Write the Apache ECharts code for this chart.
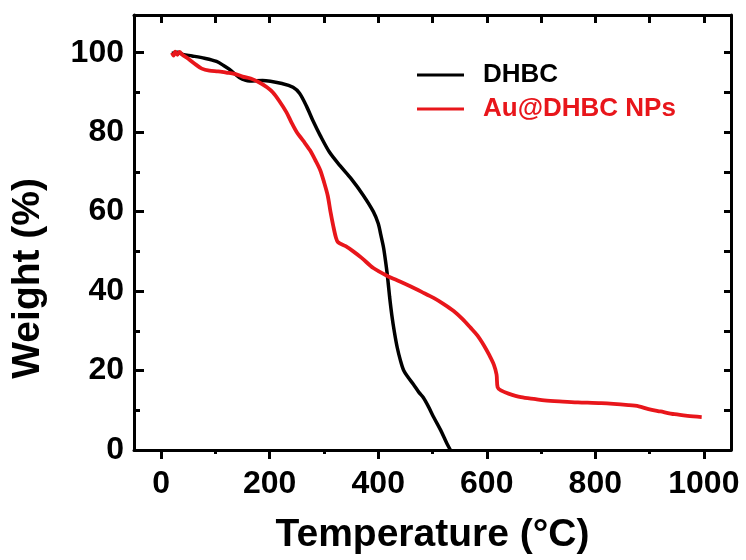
<!DOCTYPE html>
<html>
<head>
<meta charset="utf-8">
<script src="https://cdn.jsdelivr.net/npm/echarts@6/dist/echarts.min.js"></script>
<style>html,body{margin:0;padding:0;background:#fff;}#c{width:746px;height:560px;}</style>
</head>
<body>
<div id="c"></div>
<script>
// ---- data ----
var seriesNames = ['DHBC', 'Au@DHBC NPs'];
var dhbcData = [
  [20, 99.8], [30, 100.1], [40, 99.6], [57, 99.2], [80, 98.6], [102, 97.8], [115, 96.8], [126, 95.8],
  [144, 93.8], [163, 92.9], [187, 93.0], [224, 92.2], [243, 91.3], [255, 89.8], [268, 86.5],
  [280, 82.8], [293, 79.2], [310, 75.0], [330, 71.5], [350, 68.3], [372, 64.2], [391, 60.0],
  [400, 57.0], [405, 54.0], [410, 50.8], [414, 47.0], [417, 43.8], [421, 38.5], [425, 34.0],
  [430, 29.5], [435, 25.8], [441, 22.5], [447, 20.0], [455, 18.3], [465, 16.5], [475, 14.5],
  [483, 13.2], [493, 10.8], [502, 8.3], [515, 5.0], [527, 1.5], [533, 0]
];
var auData = [
  [20, 100.0], [23, 99.3], [26, 100.3], [30, 99.5], [34, 100.2], [39, 99.5], [50, 98.5], [64, 97.0],
  [75, 96.0], [89, 95.5], [105, 95.3], [120, 95.0], [135, 94.7], [150, 94.0], [165, 93.5],
  [181, 92.5], [195, 91.3], [206, 90.0], [218, 87.8], [231, 85.0], [240, 82.5], [250, 80.0],
  [262, 77.8], [274, 75.5], [284, 73.0], [293, 70.5], [300, 67.5], [307, 64.0], [312, 60.0],
  [317, 56.5], [322, 53.5], [326, 52.3], [340, 51.3], [354, 50.0], [370, 48.3], [391, 45.8],
  [417, 43.8], [440, 42.4], [459, 41.2], [480, 39.8], [502, 38.3], [520, 36.8], [539, 35.0],
  [555, 33.0], [570, 30.8], [583, 28.8], [594, 26.5], [605, 23.8], [613, 21.5], [618, 19.0],
  [620, 15.8], [626, 15.0], [640, 14.2], [663, 13.3], [690, 12.8], [706, 12.5], [740, 12.2],
  [768, 12.0], [811, 11.8], [861, 11.3], [880, 11.0], [898, 10.3], [920, 9.7], [946, 9.0],
  [970, 8.6], [996, 8.3]
];
var xMajorTicks = [0, 200, 400, 600, 800, 1000];
var xMinorTicks = [100, 300, 500, 700, 900];
var xTopTicks = [0, 100, 200, 300, 400, 500, 600, 700, 800, 900, 1000];
var yMajorTicks = [0, 20, 40, 60, 80, 100];
var yMinorTicks = [10, 30, 50, 70, 90];
var yRightTicks = [0, 10, 20, 30, 40, 50, 60, 70, 80, 90, 100];
var xTitle = 'Temperature (°C)';
var yTitle = 'Weight (%)';

// ---- chart ----
var FONT = '"Liberation Sans", Arial, sans-serif';
var X_MIN = -50, X_MAX = 1050, Y_MIN = 0, Y_MAX = 109.5;
var lineStyle = {color: '#000', width: 3};
var RED = '#e8161b';

function plainNum(v) { return String(v); }
function hiddenExtras() { return {axisLabel: {show: false}, splitLine: {show: false}}; }

var chart = echarts.init(document.getElementById('c'), null, {renderer: 'canvas'});
chart.setOption({
  backgroundColor: '#fff',
  animation: false,
  grid: {left: 134, right: 15, top: 15, bottom: 107, containLabel: false},
  legend: {
    orient: 'vertical', left: 412, top: 57, itemWidth: 47, itemHeight: 3, itemGap: 8,
    icon: 'rect',
    textStyle: {fontFamily: FONT, fontWeight: 'bold', fontSize: 26, padding: [0, 0, 0, 14]},
    data: [
      {name: seriesNames[0], textStyle: {color: '#000'}},
      {name: seriesNames[1], textStyle: {color: RED}}
    ]
  },
  xAxis: [
    {
      type: 'value', position: 'bottom', min: X_MIN, max: X_MAX,
      name: xTitle, nameLocation: 'middle', nameGap: 66,
      nameTextStyle: {fontFamily: FONT, fontWeight: 'bold', fontSize: 39, color: '#000'},
      axisLine: {show: true, onZero: false, lineStyle: lineStyle},
      axisTick: {show: true, inside: false, length: 9, customValues: xMajorTicks, lineStyle: lineStyle},
      axisLabel: {show: true, customValues: xMajorTicks, margin: 18, color: '#000', formatter: plainNum,
        fontFamily: FONT, fontWeight: 'bold', fontSize: 32},
      splitLine: {show: false}
    },
    Object.assign({
      type: 'value', position: 'bottom', min: X_MIN, max: X_MAX,
      axisLine: {show: false, onZero: false},
      axisTick: {show: true, inside: false, length: 4, customValues: xMinorTicks, lineStyle: lineStyle}
    }, hiddenExtras()),
    Object.assign({
      type: 'value', position: 'top', min: X_MIN, max: X_MAX,
      axisLine: {show: true, onZero: false, lineStyle: lineStyle},
      axisTick: {show: true, inside: true, length: 8, customValues: xTopTicks, lineStyle: lineStyle}
    }, hiddenExtras())
  ],
  yAxis: [
    {
      type: 'value', position: 'left', min: Y_MIN, max: Y_MAX,
      axisLine: {show: true, onZero: false, lineStyle: lineStyle},
      axisTick: {show: true, inside: true, length: 10, customValues: yMajorTicks, lineStyle: lineStyle},
      axisLabel: {show: true, customValues: yMajorTicks, margin: 10, color: '#000', formatter: plainNum,
        fontFamily: FONT, fontWeight: 'bold', fontSize: 32},
      splitLine: {show: false}
    },
    Object.assign({
      type: 'value', position: 'left', min: Y_MIN, max: Y_MAX,
      axisLine: {show: false, onZero: false},
      axisTick: {show: true, inside: true, length: 6, customValues: yMinorTicks, lineStyle: lineStyle}
    }, hiddenExtras()),
    Object.assign({
      type: 'value', position: 'right', min: Y_MIN, max: Y_MAX,
      axisLine: {show: true, onZero: false, lineStyle: lineStyle},
      axisTick: {show: true, inside: true, length: 7, customValues: yRightTicks, lineStyle: lineStyle}
    }, hiddenExtras())
  ],
  graphic: [{
    type: 'text', left: 9, top: 178, rotation: Math.PI / 2,
    style: {text: yTitle, fontFamily: FONT, fontWeight: 'bold', fontSize: 39, fill: '#000'}
  }],
  series: [
    {name: seriesNames[0], type: 'line', xAxisIndex: 0, yAxisIndex: 0, data: dhbcData,
      showSymbol: false, smooth: 0.3, lineStyle: {color: '#000', width: 3.5}, itemStyle: {color: '#000'}, z: 3},
    {name: seriesNames[1], type: 'line', xAxisIndex: 0, yAxisIndex: 0, data: auData,
      showSymbol: false, smooth: 0.3, lineStyle: {color: RED, width: 3.8}, itemStyle: {color: RED}, z: 4}
  ]
});
</script>
</body>
</html>
